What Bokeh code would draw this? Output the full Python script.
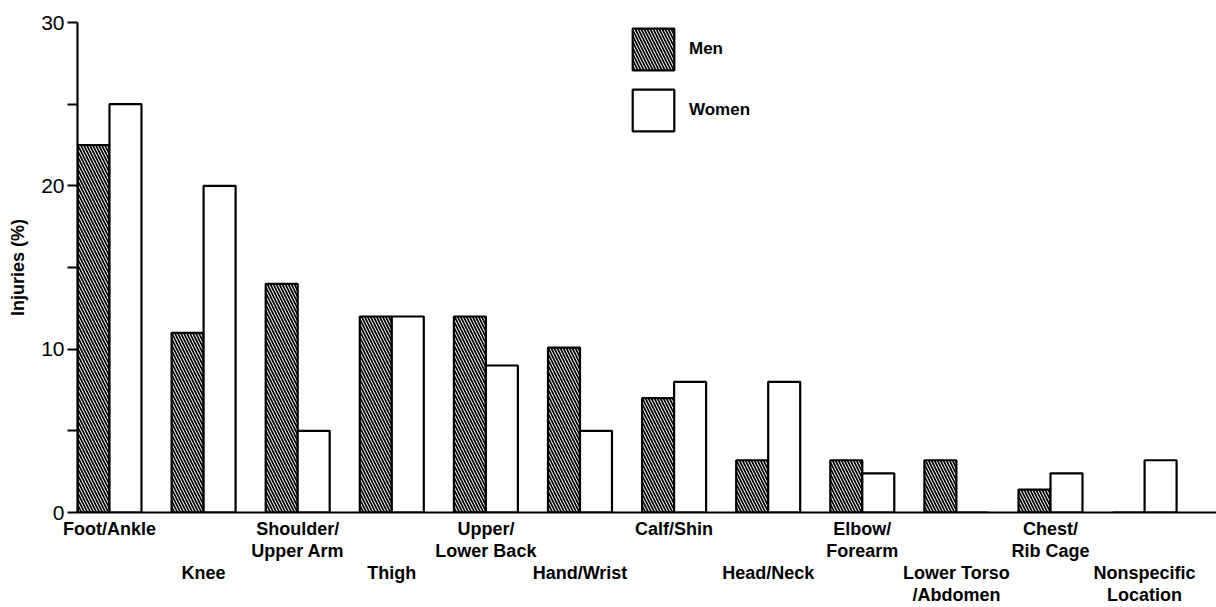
from bokeh.plotting import figure
from bokeh.models import (Range1d, FixedTicker, Legend, LegendItem,
                          ColumnDataSource, LinearAxis)
from bokeh.transform import dodge
from bokeh.embed import file_html
from bokeh.resources import INLINE

categories = ["Foot/Ankle", "Knee", "Shoulder/\nUpper Arm", "Thigh",
              "Upper/\nLower Back", "Hand/Wrist", "Calf/Shin", "Head/Neck",
              "Elbow/\nForearm", "Lower Torso\n/Abdomen", "Chest/\nRib Cage",
              "Nonspecific\nLocation"]
men = [22.5, 11, 14, 12, 12, 10.1, 7, 3.2, 3.2, 3.2, 1.4, 0]
women = [25, 20, 5, 12, 9, 5, 8, 8, 2.4, 0, 2.4, 3.2]
y_ticks = [0, 5, 10, 15, 20, 25, 30]
y_tick_labels = ["0", "", "10", "", "20", "", "30"]
y_title = "Injuries (%)"

FONT = "Liberation Sans"
BAR_W = 0.34
PX_X = 94.1            # pixels per category

idx = list(range(len(categories)))
src = ColumnDataSource(dict(x=idx, men=men, women=women))

# odd categories are written on a lower row (two blank lines pushed in front)
x_tick_labels = {i: (name if i % 2 == 0 else "\n\n" + name)
                 for i, name in zip(idx, categories)}

p = figure(width=1216, height=607,
           x_range=Range1d(-BAR_W, -BAR_W + 1139 / PX_X),
           y_range=Range1d(0, 30),
           output_backend="svg", toolbar_location=None,
           x_axis_location=None, y_axis_location=None,
           min_border_left=77, min_border_right=0, min_border_top=22, min_border_bottom=95)
p.outline_line_color = None
p.background_fill_color = "white"
p.border_fill_color = "white"
p.grid.visible = False

yaxis = LinearAxis(ticker=FixedTicker(ticks=y_ticks),
                   major_label_overrides={t: l for t, l in zip(y_ticks, y_tick_labels)},
                   axis_line_width=2.2, axis_line_color="black",
                   major_tick_line_width=2.2, major_tick_in=0, major_tick_out=10,
                   minor_tick_in=0, minor_tick_out=0,
                   major_label_standoff=3,
                   major_label_text_font=FONT, major_label_text_font_size="21px",
                   major_label_text_color="black",
                   axis_label=y_title, axis_label_text_font=FONT,
                   axis_label_text_font_size="18px", axis_label_text_font_style="bold",
                   axis_label_text_color="black", axis_label_standoff=10)
p.add_layout(yaxis, "left")

xaxis = LinearAxis(ticker=FixedTicker(ticks=idx),
                   major_label_overrides=x_tick_labels,
                   axis_line_width=2.2, axis_line_color="black",
                   major_tick_in=0, major_tick_out=0, minor_tick_in=0, minor_tick_out=0,
                   major_label_standoff=6,
                   major_label_text_font=FONT, major_label_text_font_size="18px",
                   major_label_text_font_style="bold", major_label_text_color="black",
                   major_label_text_line_height=1.1)
p.add_layout(xaxis, "below")

common = dict(width=BAR_W, bottom=0, source=src, line_color="black", line_width=2.2)
r_m = p.vbar(x=dodge("x", -BAR_W / 2, range=p.x_range), top="men",
             fill_color="white", hatch_pattern="left_diagonal_line",
             hatch_scale=6, hatch_weight=1.7, hatch_color="black", **common)
r_w = p.vbar(x=dodge("x", BAR_W / 2, range=p.x_range), top="women",
             fill_color="white", **common)

legend = Legend(items=[LegendItem(label="Men", renderers=[r_m]),
                       LegendItem(label="Women", renderers=[r_w])],
                location=(550, 376), glyph_width=52, glyph_height=52, spacing=9,
                padding=0, margin=0, border_line_color=None, background_fill_alpha=0,
                label_text_font=FONT, label_text_font_size="17px",
                label_text_font_style="bold", label_text_color="black", label_standoff=10)
p.add_layout(legend)

open("out.html", "w").write(file_html(p, INLINE))
